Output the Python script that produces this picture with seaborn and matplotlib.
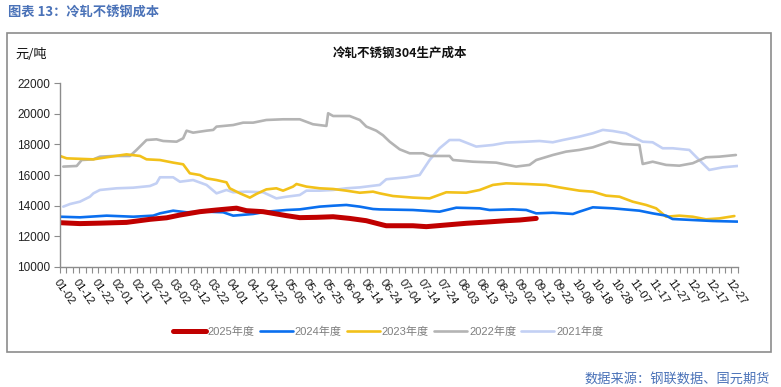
import matplotlib
matplotlib.use("Agg")
import matplotlib.pyplot as plt
import seaborn as sns
import pandas as pd
import numpy as np
from matplotlib.patches import Rectangle
from matplotlib.ticker import MultipleLocator

# ---------------- data (x = position on a 0..353 date axis, ~days) ----------------
tick_labels = ["01-02", "01-12", "01-22", "02-01", "02-11", "02-21", "03-02", "03-12",
               "03-22", "04-01", "04-12", "04-22", "05-05", "05-15", "05-25", "06-04",
               "06-14", "06-24", "07-04", "07-14", "07-24", "08-03", "08-13", "08-23",
               "09-02", "09-12", "09-22", "10-08", "10-18", "10-28", "11-07", "11-17",
               "11-27", "12-07", "12-17", "12-27"]

x_2025 = [0, 10.4, 20.8, 34.7, 46.9, 55.6, 62.5, 72.9, 81.6, 92.0, 97.2, 105.9, 111.1,
          118.1, 125.0, 133.7, 142.4, 151.0, 159.7, 168.4, 170.1, 184.0, 191.0, 201.4,
          211.8, 222.2, 232.6, 239.6, 248.3]
y_2025 = [12880, 12820, 12850, 12900, 13100, 13200, 13380, 13600, 13710, 13830, 13665,
          13600, 13490, 13340, 13210, 13230, 13270, 13160, 13010, 12730, 12680, 12680,
          12620, 12730, 12840, 12920, 13010, 13055, 13160]

x_2024 = [0, 10.4, 24.3, 38.2, 48.6, 52.1, 59.0, 66.0, 76.4, 85.1, 90.3, 100.7, 107.6,
          118.1, 125.0, 135.4, 142.4, 149.3, 156.3, 163.2, 166.7, 184.0, 197.9, 206.6,
          218.8, 224.0, 236.1, 243.1, 248.3, 257.0, 267.4, 270.8, 277.8, 288.2, 302.1,
          309.0, 316.0, 319.4, 329.9, 340.3, 353.3]
y_2024 = [13270, 13230, 13340, 13270, 13340, 13490, 13665, 13560, 13600, 13560, 13340,
          13450, 13600, 13710, 13750, 13930, 13990, 14040, 13930, 13775, 13750, 13710,
          13600, 13860, 13820, 13710, 13750, 13710, 13490, 13530, 13450, 13600, 13885,
          13820, 13665, 13490, 13340, 13120, 13055, 12990, 12950]

x_2023 = [0, 3.5, 17.4, 24.3, 34.7, 41.7, 45.1, 52.1, 59.0, 64.2, 67.7, 72.9, 76.4,
          81.6, 86.8, 88.5, 93.8, 99.0, 102.4, 107.6, 112.8, 116.3, 121.5, 123.3, 128.5,
          135.4, 142.4, 149.3, 156.3, 163.2, 166.7, 173.6, 184.0, 192.7, 201.4, 211.8,
          218.8, 225.7, 232.6, 243.1, 253.5, 260.4, 270.8, 277.8, 284.7, 291.7, 298.6,
          305.6, 310.8, 316.0, 322.9, 329.9, 336.8, 343.8, 351.6]
y_2023 = [17245, 17090, 17025, 17160, 17350, 17245, 17025, 16980, 16810, 16700, 16110,
          16000, 15780, 15670, 15520, 15130, 14800, 14520, 14760, 15060, 15130, 14975,
          15240, 15410, 15240, 15130, 15085, 14975, 14840, 14910, 14800, 14625, 14520,
          14470, 14870, 14840, 15020, 15350, 15455, 15410, 15350, 15190, 14975, 14910,
          14650, 14580, 14255, 14040, 13820, 13270, 13340, 13270, 13100, 13160, 13315]

x_2022 = [1.7, 8.7, 11.3, 17.4, 20.8, 27.8, 36.5, 39.9, 45.1, 50.3, 53.8, 60.8, 64.2,
          66.0, 69.4, 76.4, 79.9, 81.6, 90.3, 95.5, 100.7, 107.6, 116.3, 125.0, 131.9,
          138.9, 139.8, 142.4, 151.0, 156.3, 159.7, 164.9, 168.4, 171.9, 177.1, 182.3,
          189.2, 192.7, 203.1, 204.9, 215.3, 227.4, 237.8, 244.8, 248.3, 257.0, 263.9,
          270.8, 277.8, 286.5, 293.4, 302.1, 303.8, 309.0, 316.0, 322.9, 329.9, 336.8,
          343.8, 352.4]
y_2022 = [16550, 16590, 16980, 17025, 17200, 17245, 17245, 17640, 18290, 18335, 18225,
          18180, 18400, 18900, 18770, 18900, 18950, 19165, 19270, 19425, 19425, 19600,
          19645, 19645, 19320, 19210, 20040, 19860, 19860, 19600, 19170, 18900, 18600,
          18180, 17680, 17420, 17420, 17245, 17245, 16980, 16870, 16810, 16550, 16660,
          16980, 17310, 17530, 17640, 17810, 18180, 18030, 17965, 16720, 16870, 16660,
          16610, 16770, 17160, 17200, 17310]

x_2021 = [1.7, 5.2, 10.4, 15.6, 17.4, 20.8, 29.5, 38.2, 46.9, 50.3, 52.1, 59.0, 62.5,
          69.4, 76.4, 81.6, 86.8, 90.3, 97.2, 105.9, 112.8, 118.1, 125.0, 128.5, 135.4,
          142.4, 149.3, 156.3, 166.7, 170.1, 180.6, 187.5, 192.7, 197.9, 203.1, 208.3,
          217.0, 225.7, 232.6, 243.1, 250.0, 256.9, 262.2, 270.8, 277.8, 283.0, 288.2,
          295.1, 303.8, 309.0, 314.2, 319.4, 328.1, 333.3, 338.5, 345.5, 353.3]
y_2021 = [13930, 14100, 14255, 14580, 14800, 15020, 15130, 15170, 15280, 15455, 15850,
          15850, 15560, 15670, 15350, 14800, 15020, 14870, 14910, 14870, 14470, 14580,
          14690, 14975, 14975, 15020, 15130, 15190, 15350, 15720, 15850, 16000, 16980,
          17750, 18290, 18290, 17860, 17965, 18120, 18180, 18225, 18140, 18290, 18510,
          18730, 18950, 18880, 18730, 18180, 18140, 17750, 17750, 17640, 16980, 16330,
          16500, 16590]

series_names = ["2025年度", "2024年度", "2023年度", "2022年度", "2021年度"]
series_x = [x_2025, x_2024, x_2023, x_2022, x_2021]
series_y = [y_2025, y_2024, y_2023, y_2022, y_2021]

# ---------------- styling ----------------
colors = ["#C00000", "#0A6FEF", "#F2C11A", "#B4B4B4", "#C3D0F4"]
widths = [3.6, 1.9, 1.9, 1.9, 1.9]

sns.set_theme(style="white")
plt.rcParams["font.family"] = ["Liberation Sans", "Noto Sans CJK SC", "DejaVu Sans"]

frames = []
for name, xs, ys in zip(series_names, series_x, series_y):
    frames.append(pd.DataFrame({"x": xs, "y": ys, "series": name}))
df = pd.concat(frames, ignore_index=True)

fig = plt.figure(figsize=(7.81, 3.87), dpi=100)
ax = fig.add_axes([60 / 781, 1 - 266.7 / 387, (738 - 60) / 781, (266.7 - 83.3) / 387])

# draw older series first so 2025 stays on top
for name, c, lw in reversed(list(zip(series_names, colors, widths))):
    sns.lineplot(data=df[df["series"] == name], x="x", y="y", ax=ax, color=c,
                 linewidth=lw, label=name, sort=False, estimator=None)

ax.set_xlim(0, 353.5)
ax.set_ylim(10000, 22000)
ax.set_xlabel("")
ax.set_ylabel("")

ax.set_yticks(np.arange(10000, 22001, 2000))
ax.set_yticklabels([str(v) for v in range(10000, 22001, 2000)])
ax.set_xticks(np.arange(0, 351, 10))
ax.set_xticklabels(tick_labels, rotation=-55, ha="left", va="top",
                   rotation_mode="anchor")
ax.xaxis.set_minor_locator(MultipleLocator(10 / 3))

for s in ["top", "right"]:
    ax.spines[s].set_visible(False)
for s in ["left", "bottom"]:
    ax.spines[s].set_color("#8C8C8C")
    ax.spines[s].set_linewidth(1.0)

ax.tick_params(axis="y", which="major", direction="out", length=4, width=0.8,
               color="#8C8C8C", labelsize=8.5, labelcolor="#222222", pad=3, left=True)
ax.tick_params(axis="x", which="both", direction="out", length=4, width=0.8,
               color="#8C8C8C", bottom=True)
ax.tick_params(axis="x", which="major", labelsize=8, labelcolor="#111111", pad=4)

# legend in desired order
handles, labels = ax.get_legend_handles_labels()
order = [labels.index(n) for n in series_names]
leg = fig.legend([handles[i] for i in order], [labels[i] for i in order],
                 loc="center", bbox_to_anchor=(388 / 781, 1 - 332 / 387), ncol=5,
                 frameon=False, fontsize=8, handlelength=3.0, handletextpad=0.15,
                 columnspacing=0.45, labelcolor="#7F7F7F")
if ax.get_legend() is not None:
    ax.get_legend().remove()

# texts
fig.text(8 / 781, 1 - 12 / 387, "图表 13：冷轧不锈钢成本", ha="left", va="center",
         fontsize=9.5, fontweight="bold", color="#4A72B8",
         family=["Noto Sans CJK SC", "DejaVu Sans"])
fig.text(15 / 781, 1 - 54 / 387, "元/吨", ha="left", va="center", fontsize=9.5,
         color="#111111", family=["Noto Sans CJK SC", "DejaVu Sans"])
fig.text(400 / 781, 1 - 53 / 387, "冷轧不锈钢304生产成本", ha="center", va="center",
         fontsize=9, fontweight="bold", color="#111111",
         family=["Noto Sans CJK SC", "DejaVu Sans"])
fig.text(770 / 781, 1 - 380 / 387, "数据来源：钢联数据、国元期货", ha="right", va="center",
         fontsize=9.5, color="#4A72B8", family=["Noto Sans CJK SC", "DejaVu Sans"])

# outer frame
fig.patches.append(Rectangle((7 / 781, 1 - 352 / 387), (771 - 7) / 781, (352 - 33) / 387,
                             transform=fig.transFigure, fill=False,
                             edgecolor="#8C8C8C", linewidth=1.2))

fig.savefig("out.png", dpi=100)
